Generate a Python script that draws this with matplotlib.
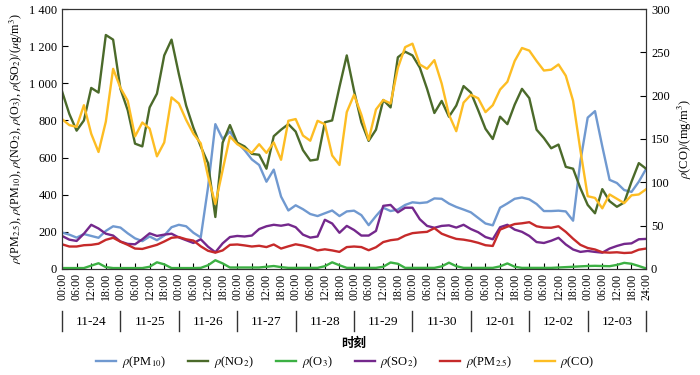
import numpy as np
import matplotlib

matplotlib.use("Agg")
import matplotlib.pyplot as plt
from matplotlib.ticker import FuncFormatter, MultipleLocator
from matplotlib.transforms import blended_transform_factory

plt.rcParams["font.family"] = ["Liberation Serif", "DejaVu Serif"]
plt.rcParams["mathtext.fontset"] = "stix"

# 3-hourly readings, 11-24 00:00 .. 12-03 24:00
hours = np.arange(0, 241, 3)
days = ["11-24", "11-25", "11-26", "11-27", "11-28",
        "11-29", "11-30", "12-01", "12-02", "12-03"]

pm10 = [196, 185, 169, 188, 178, 168, 205, 230,
        223, 192, 165, 150, 175, 155, 180, 225,
        238, 230, 195, 170, 440, 780, 700, 740,
        680, 640, 590, 560, 470, 535, 390, 315,
        343, 322, 296, 285, 300, 315, 285, 310,
        314, 290, 236, 285, 330, 312, 320, 345,
        359, 355, 359, 380, 378, 352, 334, 320,
        305, 275, 245, 235, 330, 353, 378, 385,
        375, 350, 312, 312, 314, 310, 260, 580,
        815, 850, 660, 480, 463, 425, 415, 470,
        539]
no2 = [957, 835, 745, 800, 975, 950, 1260, 1235,
       970, 855, 675, 660, 870, 944, 1150, 1235,
       1050, 880, 760, 660, 570, 280, 680, 775,
       680, 660, 620, 615, 540, 715, 750, 780,
       740, 640, 584, 590, 790, 800, 980, 1150,
       960, 790, 690, 750, 910, 870, 1140, 1170,
       1150, 1085, 970, 840, 905, 820, 880, 985,
       950, 855, 755, 700, 820, 780, 885, 970,
       920, 750, 705, 650, 670, 550, 540, 435,
       345, 300, 430, 365, 335, 358, 470, 570,
       540]
o3 = [5, 5, 5, 5, 18, 31, 10, 5,
      5, 5, 5, 5, 12, 36, 25, 5,
      5, 5, 5, 6, 20, 47, 30, 8,
      8, 8, 8, 8, 12, 16, 10, 6,
      6, 6, 6, 6, 15, 36, 20, 6,
      6, 6, 6, 6, 12, 35, 28, 6,
      6, 6, 6, 6, 14, 34, 15, 6,
      6, 6, 6, 6, 14, 30, 12, 6,
      6, 6, 6, 6, 8, 10, 12, 14,
      16, 17, 16, 15, 22, 33, 28, 16,
      3]
so2 = [178, 158, 151, 190, 238, 218, 190, 180,
       148, 135, 133, 160, 192, 178, 185, 190,
       170, 155, 140, 160, 120, 90, 138, 172,
       178, 175, 180, 215, 230, 238, 233, 240,
       225, 185, 169, 175, 265, 245, 195, 232,
       210, 180, 180, 205, 340, 345, 305, 330,
       330, 268, 232, 222, 232, 235, 223, 238,
       215, 198, 172, 160, 225, 238, 212, 200,
       178, 145, 140, 152, 168, 132, 105, 92,
       97, 92, 88, 110, 124, 135, 138, 160,
       162]
pm25 = [133, 121, 121, 128, 130, 136, 157, 168,
        147, 130, 110, 108, 119, 130, 148, 168,
        172, 160, 153, 122, 98, 88, 100, 130,
        132, 127, 121, 125, 118, 132, 110, 122,
        133, 126, 115, 100, 106, 100, 92, 118,
        121, 118, 101, 117, 145, 155, 160, 180,
        193, 197, 200, 220, 190, 175, 162, 158,
        151, 141, 128, 124, 212, 228, 242, 246,
        252, 230, 223, 222, 230, 200, 163, 130,
        113, 105, 90, 88, 90, 86, 88, 104,
        110]
co = [173, 166, 164, 189, 156, 135, 170, 231,
      209, 194, 153, 169, 162, 130, 146, 198,
      191, 172, 156, 145, 107, 75, 114, 153,
      144, 139, 134, 144, 134, 146, 126, 171,
      173, 154, 148, 171, 167, 131, 120, 181,
      201, 178, 149, 184, 195, 191, 232, 256,
      260, 236, 231, 241, 214, 178, 159, 192,
      201, 197, 181, 189, 207, 216, 240, 255,
      252, 240, 229, 230, 236, 223, 194, 137,
      84, 82, 70, 86, 81, 76, 85, 86,
      92]

fig = plt.figure(figsize=(7, 3.75), dpi=100)
ax = fig.add_axes([0.0886, 0.2827, 0.8344, 0.6933])
ax2 = ax.twinx()

lw = 1.7
h1, = ax.plot(hours, pm10, color="#7099d0", lw=lw)
h2, = ax.plot(hours, no2, color="#4b6a2a", lw=lw)
h3, = ax.plot(hours, o3, color="#3cb043", lw=lw)
h4, = ax.plot(hours, so2, color="#74288c", lw=lw)
h5, = ax.plot(hours, pm25, color="#c62a2a", lw=lw)
h6, = ax2.plot(hours, co, color="#fdbd23", lw=lw)

ax.set_xlim(0, 240)
ax.set_ylim(0, 1400)
ax2.set_ylim(0, 300)
ax.yaxis.set_major_locator(MultipleLocator(200))
ax.yaxis.set_major_formatter(FuncFormatter(lambda v, p: f"{int(v):,}".replace(",", " ")))
ax2.yaxis.set_major_locator(MultipleLocator(50))

ticks = np.arange(0, 241, 6)
ax.set_xticks(ticks)
ax.set_xticklabels([f"{t % 24:02d}:00" if t < 240 else "24:00" for t in ticks],
                   rotation=90, fontsize=8.5)
ax.tick_params(axis="x", direction="in", length=4, pad=3)
ax.tick_params(axis="y", direction="in", length=4, labelsize=9)
ax2.tick_params(axis="y", direction="in", length=4, labelsize=9)
for a in (ax, ax2):
    for s in a.spines.values():
        s.set_color("#333333")
        s.set_linewidth(0.8)

ax.set_ylabel(r"$\rho$(PM$_{2.5}$), $\rho$(PM$_{10}$), $\rho$(NO$_2$), $\rho$(O$_3$), "
              r"$\rho$(SO$_2$)/($\mu$g/m$^3$)", fontsize=8.7)
ax.yaxis.set_label_coords(-0.064, 0.5)
ax2.set_ylabel(r"$\rho$(CO)/(mg/m$^3$)", fontsize=9)
ax2.yaxis.set_label_coords(1.051, 0.5)

# date row with separators under the time ticks
trans = blended_transform_factory(ax.transData, ax.transAxes)
for i, d in enumerate(days):
    ax.text(i * 24 + 12, -0.205, d, transform=trans, ha="center", va="center",
            fontsize=9.5)
for i in range(len(days) + 1):
    ax.plot([i * 24, i * 24], [-0.163, -0.238], transform=trans, color="#333333",
            lw=1.0, clip_on=False)

ax.text(0.5, -0.285, "时刻", transform=ax.transAxes, ha="center", va="center",
        fontsize=9, fontweight="bold", family=["Noto Sans CJK SC", "DejaVu Sans"])

labels = [r"$\rho$(PM$_{10}$)", r"$\rho$(NO$_2$)", r"$\rho$(O$_3$)",
          r"$\rho$(SO$_2$)", r"$\rho$(PM$_{2.5}$)", r"$\rho$(CO)"]
fig.legend([h1, h2, h3, h4, h5, h6], labels, loc="center",
           bbox_to_anchor=(0.493, 0.035), ncol=6, frameon=False, fontsize=9,
           handlelength=1.6, columnspacing=1.8, handletextpad=0.45)

fig.savefig("out.png", dpi=100)
plt.close(fig)
